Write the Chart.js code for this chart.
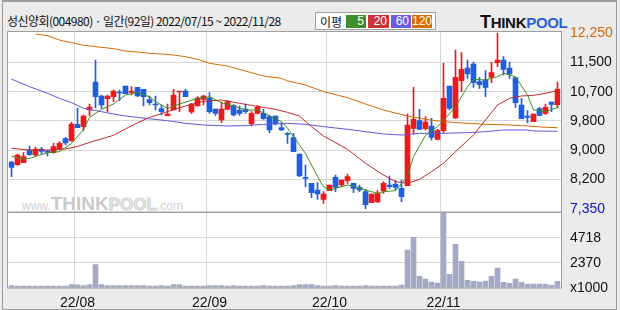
<!DOCTYPE html>
<html>
<head>
<meta charset="utf-8">
<script src="https://cdn.jsdelivr.net/npm/chart.js@4.4.0/dist/chart.umd.min.js"></script>
<style>
  body { margin: 0; width: 620px; height: 310px; background: #ebebeb; position: relative; overflow: hidden; font-family: "Noto Sans CJK KR", sans-serif; }
  .frame { position: absolute; left: 2px; top: 0; width: 615px; height: 310px; box-sizing: border-box; border: 1px solid #9c9c9c; border-top-width: 2px; }
  .plot { position: absolute; left: 8px; top: 32px; width: 554px; height: 256px; background: #fff; }
  .title { position: absolute; left: 7px; top: 12px; font-size: 12px; letter-spacing: -0.55px; color: #111; white-space: nowrap; }
  .ma-box { position: absolute; left: 315px; top: 12px; width: 121px; height: 18px; box-sizing: border-box; background: #fff; border: 1px solid #a0a0a0; }
  .ma-box .lbl { position: absolute; left: 4px; top: 0px; font-size: 12px; color: #111; }
  .ma-box .k { position: absolute; top: 2px; height: 13px; font: 12px/13px "Liberation Sans", sans-serif; color: #fff; text-align: right; padding-right: 2px; box-sizing: border-box; }
  .logo { position: absolute; left: 480px; top: 12px; font: bold 15px "Liberation Sans", sans-serif; letter-spacing: -0.3px; white-space: nowrap; }
  .logo .t { font-size: 18px; color: #111; }
  .logo .a { color: #111; }
  .logo .b { color: #2b5fd6; text-shadow: 0 0 1px #fff; }
  .wm { position: absolute; left: 22px; top: 193px; white-space: nowrap; color: #d0d0d0; font-family: "Liberation Sans", sans-serif; }
  .wm .s { font-size: 12px; }
  .wm .a { font-size: 19px; font-weight: bold; color: #cacaca; }
  .wm .b { font-size: 17px; font-weight: bold; color: #e6e6e6; -webkit-text-stroke: 1px #d4d4d4; }
  canvas { position: absolute; left: 0; top: 0; }
</style>
</head>
<body>
<div class="plot"></div>
<div class="wm"><span class="s">www.</span><span class="a">THINK</span><span class="b">POOL</span><span class="s">.com</span></div>
<div class="frame"></div>
<div class="title" id="title"></div>
<div class="ma-box">
  <span class="lbl">이평</span>
  <span class="k" style="left:30px;width:20px;background:#3f8e2c">5</span>
  <span class="k" style="left:52px;width:21px;background:#c8343a">20</span>
  <span class="k" style="left:75px;width:20px;background:#6a5ee0">60</span>
  <span class="k" style="left:96px;width:20px;background:#d86c02">120</span>
</div>
<div class="logo"><span class="t">T</span><span class="a">HINK</span><span class="b">POOL</span></div>
<canvas id="priceChart" width="620" height="310"></canvas>
<canvas id="volumeChart" width="620" height="310"></canvas>
<script>
/**
 *  ! Data
 * **/
const julDays = [15, 18, 19, 20, 21, 22, 25, 26, 27, 28, 29];
const augDays = [1, 2, 3, 4, 5, 8, 9, 10, 11, 12, 16, 17, 18, 19, 22, 23, 24, 25, 26, 29, 30, 31];
const sepDays = [1, 2, 5, 6, 7, 8, 13, 14, 15, 16, 19, 20, 21, 22, 23, 26, 27, 28, 29, 30];
const octDays = [4, 5, 6, 7, 11, 12, 13, 14, 17, 18, 19, 20, 21, 24, 25, 26, 27, 28, 31];
const novDays = [1, 2, 3, 4, 7, 8, 9, 10, 11, 14, 15, 16, 17, 18, 21, 22, 23, 24, 25, 28];

const opens = [
  8655, 8581, 8637, 8990, 8851, 9018, 8962, 8916, 9027, 9307,
  9251, 9707, 9642, 10107, 10889, 10498, 10423, 10479, 10610, 10777,
  10600, 10740, 10684, 10396, 10274, 10144, 9949, 10107, 10610, 10638,
  10051, 10219, 10405, 10433, 10135, 9828, 10126, 10237, 10107, 10135,
  9726, 10014, 10014, 9921, 9939, 9614, 9456, 9335, 8879, 8227,
  8060, 7873, 7613, 7855, 8227, 8013, 8134, 8060, 7948, 7827,
  7520, 7538, 7845, 8013, 8041, 7920, 7994, 9595, 9809, 9586,
  9660, 9288, 9530, 10777, 9884, 10926, 11280, 11391, 10898, 10945,
  11019, 11429, 11503, 11280, 11010, 10247, 9939, 9781, 10144, 10014,
  10331, 10256,
];
const highs = [
  8674, 8879, 8916, 9102, 9064, 9064, 8990, 9176, 9223, 9344,
  9763, 10163, 9967, 10274, 11503, 10526, 10526, 10665, 10665, 10777,
  10758, 10740, 10684, 10498, 10498, 10247, 10274, 10684, 10628, 10684,
  10293, 10479, 10526, 10591, 10135, 10331, 10368, 10256, 10219, 10274,
  10061, 10237, 10126, 9967, 9939, 9753, 9474, 9456, 8879, 8571,
  8060, 8078, 7827, 8013, 8292, 8153, 8320, 8060, 8013, 7892,
  7762, 7855, 8106, 8264, 8134, 8153, 9995, 10740, 10126, 9921,
  9874, 9567, 11410, 10777, 11782, 11708, 11503, 11447, 11019, 11205,
  11447, 12250, 11596, 11447, 11010, 10433, 10089, 9995, 10181, 10274,
  10331, 10889,
];
const lows = [
  8246, 8562, 8637, 8841, 8823, 8879, 8823, 8897, 8990, 9130,
  9232, 9614, 9530, 9939, 10163, 10154, 10061, 10340, 10368, 10563,
  10526, 10479, 10219, 10247, 10107, 9967, 9939, 10107, 10061, 10479,
  10014, 10219, 10247, 10014, 9958, 9753, 10126, 9939, 9958, 10014,
  9660, 9995, 9846, 9474, 9688, 9530, 9176, 8944, 8246, 7966,
  7659, 7613, 7501, 7855, 7827, 7966, 8060, 7799, 7827, 7350,
  7520, 7520, 7780, 7920, 7873, 7548, 7994, 9437, 9567, 9548,
  9269, 9269, 9474, 10107, 9865, 10619, 10991, 10740, 10712, 10479,
  10870, 11317, 11084, 10991, 10181, 9865, 9753, 9781, 9939, 9977,
  10061, 10163,
];
const closes = [
  8506, 8851, 8804, 8860, 9018, 8953, 8925, 9083, 9176, 9186,
  9716, 9614, 9939, 10191, 10479, 10247, 10498, 10638, 10582, 10563,
  10638, 10498, 10479, 10312, 10247, 10061, 9995, 10526, 10628, 10479,
  10274, 10442, 10498, 10061, 10014, 10135, 10340, 9967, 10014, 10061,
  10014, 10181, 9865, 9548, 9716, 9548, 9428, 8944, 8264, 8199,
  7799, 7762, 7762, 8013, 7948, 8153, 8246, 7920, 7873, 7464,
  7762, 7780, 8060, 7966, 7948, 7687, 9688, 9846, 9567, 9772,
  9344, 9530, 10433, 10154, 11019, 11242, 11112, 10870, 10814, 10740,
  11149, 11503, 11242, 11112, 10312, 9865, 9902, 9995, 9958, 10181,
  10265, 10693,
];

// volume, x1000 shares
const volumes = [
  235, 170, 170, 170, 170, 170, 170, 170, 170, 170,
  330, 300, 235, 330, 2207, 330, 235, 235, 235, 235,
  235, 235, 235, 170, 170, 235, 170, 330, 330, 170,
  170, 170, 170, 235, 235, 235, 170, 235, 170, 170,
  170, 170, 235, 170, 170, 170, 170, 235, 330, 330,
  330, 235, 170, 170, 235, 170, 170, 170, 170, 235,
  170, 170, 170, 170, 170, 280, 3570, 4760, 1095, 845,
  560, 470, 7500, 1280, 4100, 2500, 720, 625, 560, 650,
  1095, 1880, 530, 440, 845, 530, 375, 375, 375, 375,
  280, 625,
];

// moving averages: [day index, value]
const ma5Pts = [[0, 8823], [2, 8730], [3, 8758], [6, 8916], [8, 8944], [10, 9176], [12, 9560], [13, 9900], [15, 10126], [17, 10274], [19, 10526], [21, 10591], [23, 10479], [24, 10340], [26, 10154], [28, 10274], [31, 10433], [33, 10479], [35, 10312], [37, 10219], [39, 10107], [41, 10107], [43, 9939], [45, 9781], [46, 9600], [47, 9362], [49, 8897], [51, 8246], [52, 7966], [53, 7873], [56, 8013], [57, 7985], [59, 7873], [61, 7780], [62, 7827], [64, 7855], [66, 8246], [67, 8804], [69, 9400], [71, 9642], [72, 9809], [74, 10200], [76, 10758], [77, 10963], [79, 10945], [81, 11038], [82, 11131], [84, 11038], [86, 10526], [87, 10107], [89, 10061], [91, 10181]];
const ma20Pts = [[0, 9037], [3, 8990], [6, 8990], [9, 9020], [11, 9090], [13, 9200], [15, 9300], [17, 9400], [19, 9580], [21, 9750], [23, 9900], [26, 10061], [29, 10219], [32, 10349], [35, 10387], [38, 10293], [42, 10181], [44, 10126], [46, 10040], [48, 9939], [50, 9642], [52, 9381], [56, 9009], [59, 8618], [62, 8292], [64, 8106], [66, 8060], [68, 8171], [70, 8385], [72, 8618], [74, 8944], [77, 9409], [79, 9828], [81, 10247], [83, 10433], [85, 10498], [87, 10517], [89, 10573], [91, 10647]];
const ma60Pts = [[0, 10970], [1, 10898], [3, 10760], [6, 10573], [8, 10433], [10, 10312], [12, 10154], [15, 10061], [17, 9995], [19, 9939], [21, 9902], [23, 9860], [26, 9809], [29, 9735], [32, 9688], [36, 9660], [39, 9670], [42, 9707], [46, 9735], [49, 9707], [52, 9642], [56, 9567], [59, 9502], [62, 9437], [65, 9409], [68, 9456], [72, 9456], [76, 9474], [79, 9502], [82, 9548], [86, 9548], [87, 9521], [91, 9512]];
const ma120Pts = [[4, 12230], [6, 12183], [8, 12061], [10, 11987], [12, 11913], [15, 11857], [17, 11820], [19, 11754], [21, 11726], [23, 11689], [25, 11670], [27, 11643], [29, 11596], [31, 11522], [33, 11410], [36, 11335], [38, 11242], [40, 11149], [42, 11056], [45, 10991], [46, 10920], [49, 10805], [52, 10619], [56, 10451], [59, 10274], [62, 10107], [66, 9939], [69, 9846], [72, 9781], [76, 9735], [79, 9707], [82, 9697], [86, 9660], [89, 9623], [91, 9614]];

// price axis: evenly spaced from low to high, labels as printed
const priceTicks = [7350, 8166.7, 8983.3, 9800, 10616.7, 11433.3, 12250];
const priceLabels = ["7,350", "8,200", "9,000", "9,800", "10,700", "11,500", "12,250"];
const volTicks = [0, 2370, 4718];
const volLabels = ["x1000", "2370", "4718"];

/**
 *  ! Helpers
 * **/
const pad = (n) => String(n).padStart(2, "0");
const dates = [];
[[7, julDays], [8, augDays], [9, sepDays], [10, octDays], [11, novDays]].forEach(([m, days]) => {
  days.forEach((d) => dates.push(`2022/${pad(m)}/${pad(d)}`));
});
const monthStarts = dates
  .map((d, i) => (i > 0 && d.slice(5, 7) !== dates[i - 1].slice(5, 7) ? i : -1))
  .filter((i) => i >= 0);

document.getElementById("title").textContent =
  `성신양회(004980) · 일간(${dates.length}일) ${dates[0]} ~ ${dates[dates.length - 1]}`;

const toSeries = (pts) => {
  const out = dates.map(() => null);
  pts.forEach(([i, v]) => (out[i] = v));
  return out;
};

const upColor = "#f01818";
const downColor = "#1e5fe2";
const candleColors = closes.map((c, i) => (c >= opens[i] ? upColor : downColor));

const gridCol = "#d6d6d6";
const axisFont = { family: "'Liberation Sans Narrow', 'Liberation Sans', sans-serif", size: 14 };
const monthGrid = (ctx) => (monthStarts.includes(ctx.index) ? gridCol : "rgba(0,0,0,0)");

const framePlugin = {
  id: "frame",
  afterDraw(chart) {
    const { ctx, chartArea: a } = chart;
    ctx.save();
    ctx.strokeStyle = "#a0a0a0";
    ctx.lineWidth = 1;
    ctx.strokeRect(7.5, Math.round(a.top) - 0.5, 554, Math.round(a.bottom - a.top) + 0.5);
    ctx.restore();
  },
};

/**
 *  ! Price Chart
 * **/
const maLine = (label, pts, color) => ({
  type: "line",
  label: label,
  data: toSeries(pts),
  borderColor: color,
  borderWidth: 1,
  pointRadius: 0,
  spanGaps: true,
  tension: 0,
  order: 0,
});

new Chart(document.getElementById("priceChart"), {
  type: "bar",
  data: {
    labels: dates,
    datasets: [
      maLine("5", ma5Pts, "#3e8e1e"),
      maLine("20", ma20Pts, "#c02a2a"),
      maLine("60", ma60Pts, "#6353dc"),
      maLine("120", ma120Pts, "#d46a00"),
      // bodies
      {
        label: "body",
        data: opens.map((o, i) => [o, closes[i]]),
        backgroundColor: candleColors,
        barThickness: 5,
        minBarLength: 1,
        grouped: false,
        order: 1,
      },
      // wicks
      {
        label: "wick",
        data: lows.map((l, i) => [l, highs[i]]),
        backgroundColor: candleColors,
        barThickness: 1,
        grouped: false,
        order: 2,
      },
    ],
  },
  options: {
    responsive: false,
    animation: false,
    layout: { padding: { left: 8.5, top: 32, right: 0, bottom: 0 } },
    plugins: { legend: { display: false }, tooltip: { enabled: false } },
    scales: {
      x: {
        grid: { color: monthGrid, drawTicks: false, offset: true },
        border: { display: false },
        ticks: { display: false },
        afterFit: (s) => { s.height = 98; },
      },
      y: {
        position: "right",
        min: 7259,
        max: 12285,
        afterFit: (s) => { s.width = 59.5; },
        afterBuildTicks: (s) => { s.ticks = priceTicks.map((v) => ({ value: v })); },
        ticks: {
          callback: (v, i) => priceLabels[i],
          padding: 9.5,
          font: axisFont,
          color: (c) => (c.index === 0 ? "#0a14c8" : c.index === priceTicks.length - 1 ? "#d2680a" : "#111"),
        },
        grid: {
          color: (c) => (c.index === 0 || c.index === priceTicks.length - 1 ? "rgba(0,0,0,0)" : gridCol),
          drawTicks: false,
        },
        border: { display: false },
      },
    },
  },
  plugins: [framePlugin],
});

/**
 *  ! Volume Chart
 * **/
new Chart(document.getElementById("volumeChart"), {
  type: "bar",
  data: {
    labels: dates,
    datasets: [
      {
        label: "volume",
        data: volumes,
        backgroundColor: "#a3aac6",
        barThickness: 5,
        minBarLength: 1,
      },
    ],
  },
  options: {
    responsive: false,
    animation: false,
    layout: { padding: { left: 8.5, top: 213, right: 0, bottom: 0 } },
    plugins: { legend: { display: false }, tooltip: { enabled: false } },
    scales: {
      x: {
        grid: { color: monthGrid, drawTicks: false, offset: true },
        border: { display: false },
        ticks: {
          autoSkip: false,
          maxRotation: 0,
          padding: 7,
          font: axisFont,
          color: "#111",
          callback: (v, i) => (monthStarts.includes(i) ? dates[i].slice(2, 7) : ""),
        },
        afterFit: (s) => { s.height = 22; },
      },
      y: {
        position: "right",
        min: 0,
        max: 7050,
        afterFit: (s) => { s.width = 59.5; },
        afterBuildTicks: (s) => { s.ticks = volTicks.map((v) => ({ value: v })); },
        ticks: {
          callback: (v, i) => volLabels[i],
          padding: 9.5,
          font: axisFont,
          color: "#111",
        },
        grid: {
          color: (c) => (c.index === 0 ? "rgba(0,0,0,0)" : gridCol),
          drawTicks: false,
        },
        border: { display: false },
      },
    },
  },
  plugins: [framePlugin],
});
</script>
</body>
</html>
